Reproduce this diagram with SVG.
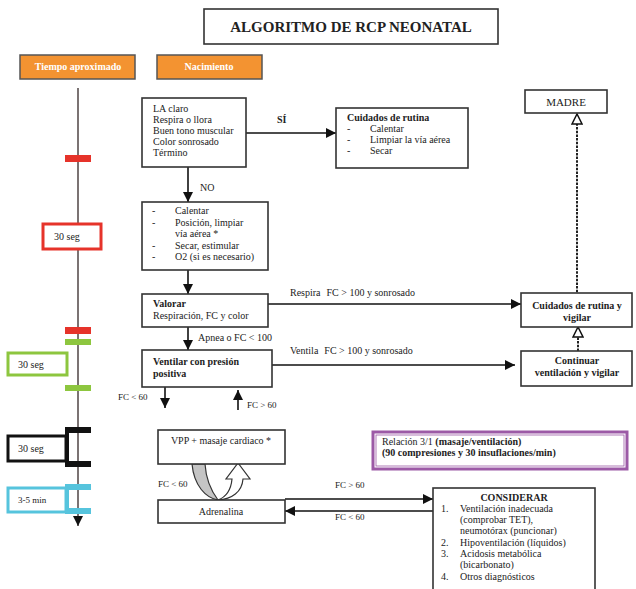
<svg xmlns="http://www.w3.org/2000/svg" width="636" height="589" viewBox="0 0 636 589">
  <style>
    text { font-family: "Liberation Serif", "Times New Roman", serif; font-size: 10px; fill: #222; }
    .b { font-weight: bold; }
    .sm { font-size: 9px; }
    .box { fill: #fff; stroke: #333; stroke-width: 1.6; }
    .orange { fill: #F39331; stroke: #555; stroke-width: 1.5; }
    .wt { fill: #fff; font-weight: bold; }
    .conn { fill: none; stroke: #111; stroke-width: 1.6; }
    .dash { fill: none; stroke: #222; stroke-width: 2; stroke-dasharray: 2.5 1.2; }
    .mid { text-anchor: middle; }
  </style>
  <defs>
    <marker id="ah" viewBox="0 0 10 10" refX="10" refY="5" markerWidth="10" markerHeight="10" markerUnits="userSpaceOnUse" orient="auto">
      <path d="M0,0 L10,5 L0,10 z" fill="#111"/>
    </marker>
    <marker id="hollow" viewBox="-1 -1 12 12" refX="10" refY="5" markerWidth="12" markerHeight="12" markerUnits="userSpaceOnUse" orient="auto">
      <path d="M0,0 L10,5 L0,10 z" fill="#fff" stroke="#111" stroke-width="1.5" stroke-dasharray="none"/>
    </marker>
  </defs>

  <!-- title -->
  <g id="title">
    <rect class="box" x="204" y="9" width="294" height="35"/>
    <text class="b mid" x="351" y="32" style="font-size:15px">ALGORITMO DE RCP NEONATAL</text>
  </g>

  <!-- column headers -->
  <g id="hdr-tiempo">
    <rect class="orange" x="20" y="55" width="115" height="24"/>
    <text class="wt mid" x="78" y="70">Tiempo aproximado</text>
  </g>
  <g id="hdr-nacimiento">
    <rect class="orange" x="157" y="55" width="105" height="24"/>
    <text class="wt mid" x="209" y="70">Nacimiento</text>
  </g>

  <!-- time axis with interval markers -->
  <g id="timeline">
    <path d="M78,88 V526" stroke="#5a5050" stroke-width="1.6" fill="none" marker-end="url(#ah)"/>
    <rect x="65" y="155" width="26" height="7" fill="#E6332A"/>
    <rect x="65" y="327" width="26" height="7" fill="#E6332A"/>
    <rect x="65" y="339" width="26" height="6" fill="#8DC63F"/>
    <rect x="65" y="385" width="26" height="6" fill="#8DC63F"/>
    <rect x="66" y="427" width="25" height="6" fill="#111"/>
    <rect x="66" y="461" width="25" height="6" fill="#111"/>
    <path d="M67,427 V467" stroke="#111" stroke-width="4"/>
    <rect x="66" y="484" width="25" height="6" fill="#56C4DD"/>
    <rect x="66" y="508" width="25" height="6" fill="#56C4DD"/>
    <path d="M67,484 V514" stroke="#56C4DD" stroke-width="4"/>
  </g>
  <g id="t-30seg-red">
    <rect x="43" y="224" width="58" height="25" fill="#fff" stroke="#E6332A" stroke-width="3"/>
    <text x="54" y="240">30 seg</text>
  </g>
  <g id="t-30seg-green">
    <rect x="8" y="353" width="59" height="22" fill="#fff" stroke="#8DC63F" stroke-width="3"/>
    <text x="18" y="368">30 seg</text>
  </g>
  <g id="t-30seg-black">
    <rect x="8" y="436" width="58" height="25" fill="#fff" stroke="#111" stroke-width="3"/>
    <text x="18" y="452">30 seg</text>
  </g>
  <g id="t-3-5min">
    <rect x="8" y="488" width="58" height="24" fill="#fff" stroke="#56C4DD" stroke-width="3"/>
    <text x="18" y="503" style="font-size:9px">3-5 min</text>
  </g>

  <!-- flow connectors -->
  <g id="connectors">
    <path class="conn" d="M246,133 H336" marker-end="url(#ah)"/>
    <path class="conn" d="M188,167 V202" marker-end="url(#ah)"/>
    <path class="conn" d="M188,270 V294" marker-end="url(#ah)"/>
    <path class="conn" d="M188,327 V350" marker-end="url(#ah)"/>
    <path class="conn" d="M268,304 H521" marker-end="url(#ah)"/>
    <path class="conn" d="M272,365 H515" marker-end="url(#ah)"/>
    <path class="conn" d="M165,387 V408" marker-end="url(#ah)"/>
    <path class="conn" d="M238,410 V390" marker-end="url(#ah)"/>
    <path class="dash" d="M578,351 V327" marker-end="url(#hollow)"/>
    <path class="dash" d="M577,296 V114" marker-end="url(#hollow)"/>
    <path class="conn" d="M285,499 H433" marker-end="url(#ah)"/>
    <path class="conn" d="M433,511 H285" marker-end="url(#ah)"/>
    <!-- cycle between compressions and adrenaline -->
    <path d="M192,464 C194,486 206,498 218,500 C212,492 206,480 205,464 Z" fill="#c4c4c4" stroke="#333" stroke-width="1.2"/>
    <path d="M218,500 C226,497 231,490 232,479 L226,479 L238,463 L250,479 L243,479 C242,492 232,499 218,500 Z" fill="#fff" stroke="#333" stroke-width="1.2"/>
    <text x="277" y="123" class="b">SÍ</text>
    <text x="200" y="191">NO</text>
    <text x="290" y="296">Respira<tspan dx="6">FC &gt; 100 y sonrosado</tspan></text>
    <text x="198" y="341">Apnea o FC &lt; 100</text>
    <text x="290" y="354">Ventila<tspan dx="6">FC &gt; 100 y sonrosado</tspan></text>
    <text class="sm" x="118" y="400">FC &lt; 60</text>
    <text class="sm" x="247" y="408">FC &gt; 60</text>
    <text class="sm" x="158" y="487">FC &lt; 60</text>
    <text class="sm" x="335" y="488">FC &gt; 60</text>
    <text class="sm" x="335" y="520">FC &lt; 60</text>
  </g>

  <!-- nodes -->
  <g id="n-evaluacion">
    <rect class="box" x="142" y="98" width="104" height="69"/>
    <text x="153" y="112">LA claro</text>
    <text x="153" y="123">Respira o llora</text>
    <text x="153" y="134">Buen tono muscular</text>
    <text x="153" y="145">Color sonrosado</text>
    <text x="153" y="156">Término</text>
  </g>
  <g id="n-cuidados">
    <rect class="box" x="336" y="108" width="132" height="60"/>
    <text class="b" x="347" y="121">Cuidados de rutina</text>
    <text x="347" y="132">-</text><text x="370" y="132">Calentar</text>
    <text x="347" y="143">-</text><text x="370" y="143">Limpiar la vía aérea</text>
    <text x="347" y="154">-</text><text x="370" y="154">Secar</text>
  </g>
  <g id="n-madre">
    <rect class="box" x="525" y="90" width="82" height="23"/>
    <text class="mid" x="566" y="106" style="font-size:11px">MADRE</text>
  </g>
  <g id="n-pasos">
    <rect class="box" x="142" y="202" width="126" height="68"/>
    <text x="152" y="214">-</text><text x="175" y="214">Calentar</text>
    <text x="152" y="226">-</text><text x="175" y="226">Posición, limpiar</text>
    <text x="175" y="237">vía aérea *</text>
    <text x="152" y="249">-</text><text x="175" y="249">Secar, estimular</text>
    <text x="152" y="260">-</text><text x="175" y="260">O2 (si es necesario)</text>
  </g>
  <g id="n-valorar">
    <rect class="box" x="142" y="294" width="126" height="33"/>
    <text class="b" x="153" y="307">Valorar</text>
    <text x="153" y="319">Respiración, FC y color</text>
  </g>
  <g id="n-ventilar">
    <rect class="box" x="142" y="350" width="130" height="37"/>
    <text class="b" x="153" y="365">Ventilar con presión</text>
    <text class="b" x="153" y="377">positiva</text>
  </g>
  <g id="n-cuidados-vigilar">
    <rect class="box" x="521" y="293" width="111" height="34"/>
    <text class="b mid" x="577" y="309">Cuidados de rutina y</text>
    <text class="b mid" x="577" y="321">vigilar</text>
  </g>
  <g id="n-continuar">
    <rect class="box" x="521" y="351" width="111" height="35"/>
    <text class="b mid" x="577" y="364">Continuar</text>
    <text class="b mid" x="577" y="376">ventilación y vigilar</text>
  </g>
  <g id="n-vpp">
    <rect class="box" x="158" y="430" width="127" height="34"/>
    <text class="mid" x="221" y="444">VPP + masaje cardiaco *</text>
  </g>
  <g id="n-adrenalina">
    <rect class="box" x="158" y="500" width="127" height="23"/>
    <text class="mid" x="221" y="515">Adrenalina</text>
  </g>
  <g id="n-relacion">
    <rect x="373" y="432" width="254" height="37" fill="#fff" stroke="#9C5AA6" stroke-width="3"/>
    <rect x="376" y="435" width="248" height="31" fill="none" stroke="#9C5AA6" stroke-width="0.8"/>
    <text x="382" y="445">Relación 3/1 <tspan class="b">(masaje/ventilación)</tspan></text>
    <text class="b" x="382" y="456">(90 compresiones y 30 insuflaciones/min)</text>
  </g>
  <g id="n-considerar">
    <rect class="box" x="433" y="488" width="162" height="110"/>
    <text class="b mid" x="514" y="501">CONSIDERAR</text>
    <text x="441" y="512">1.</text><text x="460" y="512">Ventilación inadecuada</text>
    <text x="460" y="523">(comprobar TET),</text>
    <text x="460" y="534">neumotórax (puncionar)</text>
    <text x="441" y="546">2.</text><text x="460" y="546">Hipoventilación (líquidos)</text>
    <text x="441" y="557">3.</text><text x="460" y="557">Acidosis metabólica</text>
    <text x="460" y="568">(bicarbonato)</text>
    <text x="441" y="580">4.</text><text x="460" y="580">Otros diagnósticos</text>
  </g>
</svg>
